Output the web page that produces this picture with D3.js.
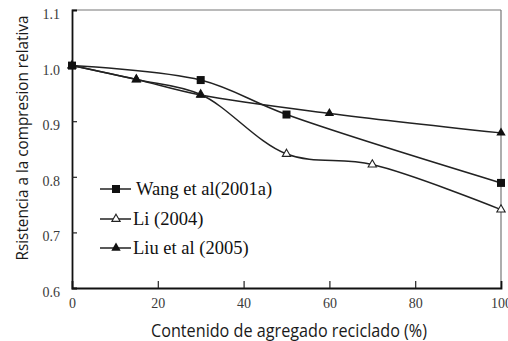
<!DOCTYPE html>
<html><head><meta charset="utf-8">
<script src="https://cdn.jsdelivr.net/npm/d3@7"></script>
<style>html,body{margin:0;padding:0;background:#fff;}svg{display:block;}</style>
</head><body>
<svg id="c" width="508" height="341"></svg>
<script>
const xTicks = [0, 20, 40, 60, 80, 100];
const yTicks = [0.6, 0.7, 0.8, 0.9, 1.0, 1.1];
const seriesNames = ["Wang et al(2001a)", "Li (2004)", "Liu et al (2005)"];
const wangX = [0, 30, 50, 100];
const wangY = [1.0, 0.974, 0.912, 0.789];
const liX = [0, 15, 30, 50, 70, 100];
const liY = [1.0, 0.975, 0.948, 0.841, 0.822, 0.741];
const liuX = [0, 15, 30, 60, 100];
const liuY = [1.0, 0.975, 0.947, 0.914, 0.879];
const xTitle = "Contenido de agregado reciclado (%)";
const yTitle = "Rsistencia a la compresion relativa";

const W = 508, H = 341;
const m = {left: 72, right: 7, top: 10, bottom: 53};
const svg = d3.select("#c");
const x = d3.scaleLinear().domain([0, 100]).range([m.left, W - m.right]);
const y = d3.scaleLinear().domain([0.6, 1.1]).range([H - m.bottom, m.top]);

// frame: top & right grey
svg.append("line").attr("x1", x(0)).attr("x2", x(100)).attr("y1", y(1.1)).attr("y2", y(1.1))
  .attr("stroke", "#777").attr("stroke-width", 1.2);
svg.append("line").attr("x1", x(100)).attr("x2", x(100)).attr("y1", y(1.1)).attr("y2", y(0.6))
  .attr("stroke", "#777").attr("stroke-width", 1.2);

const serif = "'Liberation Serif','Times New Roman',serif";
const sans = "'Open Sans','Noto Sans',sans-serif";

// axes
const xAxis = d3.axisBottom(x).tickValues(xTicks).tickSize(-7).tickPadding(11).tickFormat(d3.format("d"));
const gx = svg.append("g").attr("transform", `translate(0,${y(0.6)})`).call(xAxis);
const yAxis = d3.axisLeft(y).tickValues(yTicks).tickSize(-5).tickPadding(12).tickFormat(d3.format(".1f"));
const gy = svg.append("g").attr("transform", `translate(${x(0)},0)`).call(yAxis);
[gx, gy].forEach(g => {
  g.select(".domain").attr("stroke", "#111").attr("stroke-width", 1.8);
  g.selectAll(".tick line").attr("stroke", "#222").attr("stroke-width", 1.2);
  g.selectAll(".tick text").attr("font-family", serif).attr("font-size", 14).attr("fill", "#3a3a3a");
});
gy.selectAll(".tick text").attr("dy", "0.6em");
gx.selectAll(".tick text").attr("dy", "0.66em");
gy.selectAll(".tick").filter(d => d === 0.6 || d === 1.1).select("line").remove();
gx.selectAll(".tick").filter(d => d === 0 || d === 100).select("line").remove();

// series
const series = [
  {name: seriesNames[0], xs: wangX, ys: wangY, sym: "square"},
  {name: seriesNames[1], xs: liX, ys: liY, sym: "open"},
  {name: seriesNames[2], xs: liuX, ys: liuY, sym: "tri"}
];
const line = d3.line().x(d => x(d[0])).y(d => y(d[1])).curve(d3.curveCatmullRom.alpha(0.5));

function marker(g, sym, cx, cy) {
  if (sym === "square") {
    g.append("rect").attr("x", cx - 4).attr("y", cy - 4).attr("width", 8).attr("height", 8).attr("fill", "#111");
  } else if (sym === "tri") {
    g.append("path").attr("d", d3.symbol(d3.symbolTriangle, 38)()).attr("transform", `translate(${cx},${cy})`).attr("fill", "#111");
  } else {
    g.append("path").attr("d", d3.symbol(d3.symbolTriangle, 30)()).attr("transform", `translate(${cx},${cy})`)
      .attr("fill", "#fff").attr("stroke", "#222").attr("stroke-width", 1.1);
  }
}

const plot = svg.append("g");
series.forEach(s => {
  const pts = s.xs.map((v, i) => [v, s.ys[i]]);
  plot.append("path").attr("d", line(pts)).attr("fill", "none").attr("stroke", "#222").attr("stroke-width", 1.5);
});
// draw markers: Li first so Liu covers shared points
[series[1], series[0], series[2]].forEach(s => {
  s.xs.forEach((v, i) => marker(plot, s.sym, x(v), y(s.ys[i])));
});

// legend
const legY = [189, 219, 248];
series.forEach((s, i) => {
  const g = svg.append("g");
  g.append("line").attr("x1", 100).attr("x2", 131).attr("y1", legY[i]).attr("y2", legY[i])
    .attr("stroke", "#222").attr("stroke-width", 1.5);
  marker(g, s.sym, 116, legY[i]);
  g.append("text").attr("x", i === 0 ? 136 : 133).attr("y", legY[i]).attr("dy", "0.35em")
    .attr("font-family", serif).attr("font-size", 18.5).attr("fill", "#111").text(s.name);
});

// titles
svg.append("text").attr("x", 289).attr("y", 337).attr("text-anchor", "middle")
  .attr("font-family", sans).attr("font-size", 18).attr("fill", "#1a1a1a")
  .attr("textLength", 276).attr("lengthAdjust", "spacingAndGlyphs").text(xTitle);
svg.append("text").attr("transform", "translate(28,138) rotate(-90)").attr("text-anchor", "middle")
  .attr("font-family", sans).attr("font-size", 17).attr("fill", "#1a1a1a")
  .attr("textLength", 245).attr("lengthAdjust", "spacingAndGlyphs").text(yTitle);
</script>
</body></html>
